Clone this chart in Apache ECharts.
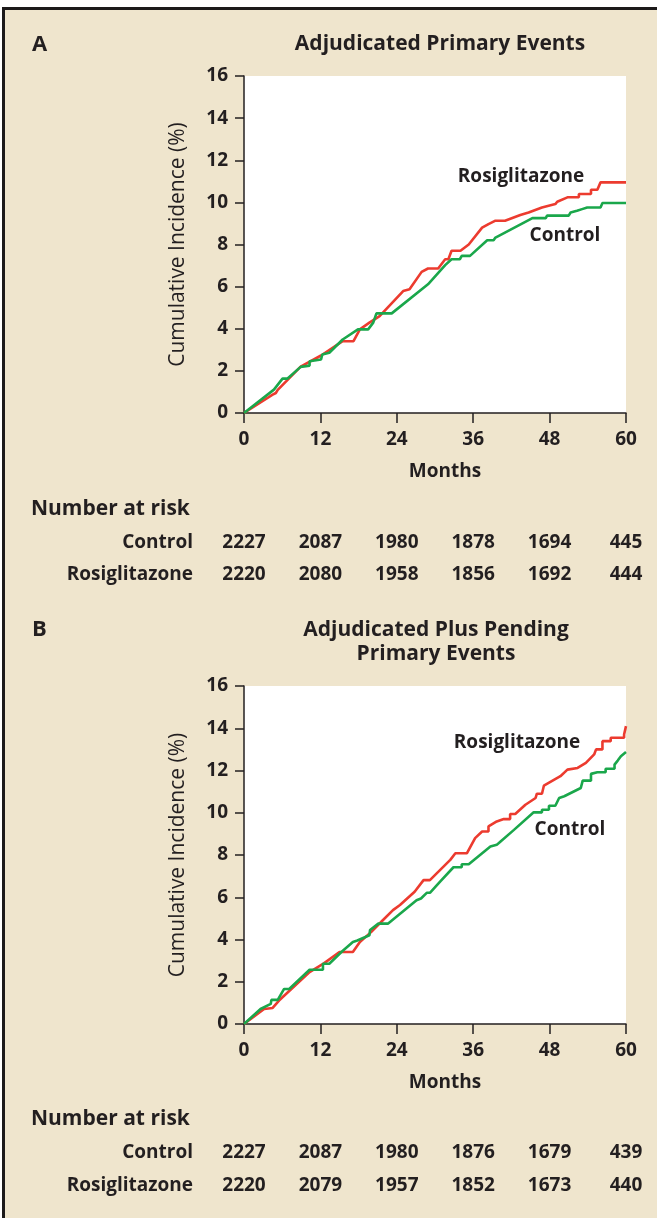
<!DOCTYPE html>
<html>
<head>
<meta charset="utf-8">
<script src="https://cdn.jsdelivr.net/npm/echarts@6/dist/echarts.min.js"></script>
<style>
  html, body { margin: 0; padding: 0; background: #fff; }
  #panel {
    position: absolute; left: 2px; top: 7px;
    width: 655px; height: 1211px;
    background: #efe5cd;
    border-top: 3px solid #1c1a1a; border-left: 3px solid #1c1a1a;
    box-sizing: border-box;
  }
  #chart { position: absolute; left: 0; top: 0; width: 657px; height: 1218px; }
</style>
</head>
<body>
<div id="panel"></div>
<div id="chart"></div>
<script>
const monthTicks = [0, 12, 24, 36, 48, 60];

// panel A: adjudicated primary events  [month, cumulative incidence %]
const rosiA = [[0,0],[4.5,0.87],[5,0.95],[5.3,1.1],[8.9,2.2],[12.1,2.73],[15.5,3.41],[17.2,3.41],[18.2,3.97],
  [19.7,4.29],[21.3,4.6],[25,5.79],[26,5.87],[27.9,6.7],[28.9,6.86],[30.5,6.86],[31.6,7.3],[32.1,7.3],
  [32.6,7.7],[34,7.7],[35.3,8.0],[37.4,8.8],[38.4,8.97],[39.5,9.13],[41,9.13],[43.4,9.4],[44.7,9.52],
  [46.8,9.76],[48.9,9.92],[49.2,10.03],[50.8,10.24],[52.6,10.24],[52.6,10.4],[54.5,10.4],[54.5,10.6],
  [55.5,10.6],[56,10.95],[60,10.95]];
const ctrlA = [[0,0],[4.7,1.11],[6.05,1.63],[6.8,1.63],[8.9,2.19],[10.3,2.25],[10.3,2.46],[12.1,2.54],
  [12.3,2.78],[13.4,2.86],[15.5,3.49],[17.9,3.97],[19.5,3.97],[20.3,4.29],[20.8,4.73],[23.2,4.73],
  [28.9,6.11],[29.2,6.2],[31.6,7.02],[32.6,7.3],[33.9,7.3],[34.2,7.46],[35.5,7.46],[38.2,8.2],[39.2,8.2],
  [39.5,8.33],[45.3,9.25],[47.4,9.25],[47.6,9.37],[51,9.37],[51.3,9.52],[52.3,9.6],[53.1,9.68],
  [53.9,9.76],[56,9.76],[56.3,9.97],[60,9.97]];

// panel B: adjudicated plus pending primary events
const rosiB = [[0,0],[3.16,0.71],[4.5,0.76],[5.5,1.11],[10.3,2.46],[12.6,2.88],[15,3.41],[17.1,3.41],
  [18.2,3.88],[20,4.36],[21.8,4.91],[23.4,5.39],[24.5,5.63],[26.8,6.26],[28.2,6.81],[29.2,6.81],
  [32.4,7.77],[33.2,8.08],[35,8.08],[36.3,8.8],[37.4,9.11],[38.4,9.11],[38.4,9.35],[39.7,9.59],
  [40.8,9.7],[41.8,9.7],[41.8,9.94],[42.6,9.94],[44.2,10.38],[45.8,10.7],[46,10.9],[46.8,10.9],
  [47.1,11.28],[49.7,11.73],[50.8,12.04],[52.4,12.12],[53.7,12.36],[55,12.76],[55.3,13.0],[56.3,13.0],
  [56.3,13.39],[57.6,13.39],[57.6,13.55],[59.7,13.55],[59.7,13.7],[60,14.1]];
const ctrlB = [[0,0],[2.6,0.71],[4.2,0.95],[4.3,1.14],[5.3,1.14],[6.3,1.66],[7.1,1.66],[10.3,2.57],
  [12.4,2.57],[12.4,2.85],[13.4,2.85],[15.3,3.41],[17.1,3.88],[17.8,3.95],[19.7,4.2],[19.8,4.45],
  [21.1,4.75],[22.6,4.75],[27.1,5.86],[27.8,5.94],[28.7,6.21],[29.2,6.21],[30.8,6.74],[32.9,7.42],
  [34.2,7.42],[34.2,7.56],[35.3,7.56],[38.7,8.4],[39.7,8.48],[40.3,8.64],[42.4,9.19],[45.5,10.02],
  [46.8,10.02],[46.8,10.14],[47.9,10.14],[47.9,10.33],[48.9,10.33],[49.5,10.7],[50.3,10.78],
  [52.9,11.17],[53.2,11.52],[54.5,11.52],[54.5,11.84],[55.5,11.92],[56.8,11.92],[56.8,12.08],
  [58.2,12.08],[58.2,12.28],[58.7,12.47],[59.2,12.68],[60,12.88]];

// number at risk, one value per month tick
const riskCtrlA = [2227, 2087, 1980, 1878, 1694, 445];
const riskRosiA = [2220, 2080, 1958, 1856, 1692, 444];
const riskCtrlB = [2227, 2087, 1980, 1876, 1679, 439];
const riskRosiB = [2220, 2079, 1957, 1852, 1673, 440];

const INK = '#231f20';
const RED = '#ec3b2f';
const GREEN = '#1aa74b';
const FONT = '"Open Sans", "Noto Sans", sans-serif';

const chart = echarts.init(document.getElementById('chart'), null, { renderer: 'canvas' });

const mainX = (gi) => ({
  type: 'value', gridIndex: gi, min: 0, max: 60, interval: 12, position: 'bottom',
  name: 'Months', nameLocation: 'middle', nameGap: 49,
  nameTextStyle: { color: INK, fontFamily: FONT, fontSize: 19, fontWeight: 'bold', padding: [0, 0, 0, 20] },
  axisLine: { onZero: false, lineStyle: { color: INK, width: 1.5 } },
  axisTick: { length: 10, lineStyle: { color: INK, width: 1.5 } },
  axisLabel: { margin: 17, color: INK, fontFamily: FONT, fontSize: 19, fontWeight: 'bold' },
  splitLine: { show: false }
});

const riskX = (gi, label, counts, offset) => ({
  type: 'value', gridIndex: gi, min: 0, max: 60, interval: 12, position: 'bottom', offset: offset,
  name: label, nameLocation: 'start', nameGap: 51,
  nameTextStyle: { color: INK, fontFamily: FONT, fontSize: 19, fontWeight: 'bold', align: 'right', verticalAlign: 'middle' },
  axisLine: { show: false, onZero: false },
  axisTick: { show: false },
  axisLabel: {
    margin: 0, verticalAlign: 'middle', color: INK, fontFamily: FONT, fontSize: 19, fontWeight: 'bold',
    showMinLabel: true, showMaxLabel: true,
    formatter: (v) => String(counts[monthTicks.indexOf(v)])
  },
  splitLine: { show: false }
});

const mainY = (gi) => ({
  type: 'value', gridIndex: gi, min: 0, max: 16, interval: 2,
  name: 'Cumulative Incidence (%)', nameLocation: 'middle', nameGap: 55,
  nameTextStyle: { color: INK, fontFamily: FONT, fontSize: 21 },
  axisLine: { lineStyle: { color: INK, width: 1.5 } },
  axisTick: { length: 9, lineStyle: { color: INK, width: 1.5 } },
  axisLabel: { margin: 16, color: INK, fontFamily: FONT, fontSize: 19, fontWeight: 'bold' },
  splitLine: { show: false }
});

const lineSeries = (name, data, color, xi, yi) => ({
  name: name, type: 'line', data: data, xAxisIndex: xi, yAxisIndex: yi,
  showSymbol: false, silent: true, animation: false,
  lineStyle: { color: color, width: 2.6 }
});

const txt = (text, x, y, size, weight, align) => ({
  type: 'text', x: x, y: y,
  style: { text: text, fill: INK, font: `${weight} ${size}px ${FONT}`, align: align || 'left', verticalAlign: 'middle' }
});

chart.setOption({
  backgroundColor: 'transparent',
  animation: false,
  grid: [
    { left: 244, top: 76, width: 382, height: 337, show: true, backgroundColor: '#fff', borderWidth: 0 },
    { left: 244, top: 686, width: 382, height: 338, show: true, backgroundColor: '#fff', borderWidth: 0 }
  ],
  xAxis: [
    mainX(0),
    riskX(0, 'Control', riskCtrlA, 130),
    riskX(0, 'Rosiglitazone', riskRosiA, 162),
    mainX(1),
    riskX(1, 'Control', riskCtrlB, 129),
    riskX(1, 'Rosiglitazone', riskRosiB, 162)
  ],
  yAxis: [mainY(0), mainY(1)],
  series: [
    lineSeries('Rosiglitazone', rosiA, RED, 0, 0),
    lineSeries('Control', ctrlA, GREEN, 0, 0),
    lineSeries('Rosiglitazone', rosiB, RED, 3, 1),
    lineSeries('Control', ctrlB, GREEN, 3, 1)
  ],
  graphic: [
    txt('A', 32, 45, 22, 'bold'),
    txt('Adjudicated Primary Events', 440, 44, 21, 'bold', 'center'),
    txt('Rosiglitazone', 521, 177, 19, 'bold', 'center'),
    txt('Control', 565, 236, 19, 'bold', 'center'),
    txt('Number at risk', 31, 509, 21, 'bold'),
    txt('B', 32, 630, 22, 'bold'),
    txt('Adjudicated Plus Pending', 436, 630, 21, 'bold', 'center'),
    txt('Primary Events', 436, 654, 21, 'bold', 'center'),
    txt('Rosiglitazone', 517, 743, 19, 'bold', 'center'),
    txt('Control', 570, 830, 19, 'bold', 'center'),
    txt('Number at risk', 31, 1119, 21, 'bold')
  ]
});
</script>
</body>
</html>
